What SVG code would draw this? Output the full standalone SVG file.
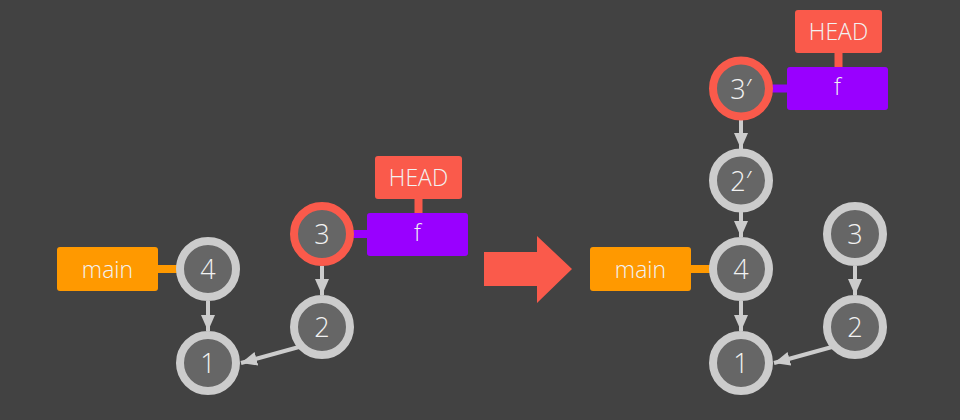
<svg xmlns="http://www.w3.org/2000/svg" width="960" height="420" viewBox="0 0 960 420">
<defs>
<style>
text{font-family:"Open Sans","Noto Sans","Liberation Sans",sans-serif;font-weight:300;fill:#f2f2f2;text-anchor:middle}
.lbl{font-size:23px}
.num{font-size:27px}
.commit{fill:#666;stroke:#ccc;stroke-width:8}
.head-commit{fill:#666;stroke:#fa5a4b;stroke-width:8}
.edge{stroke:#ccc;stroke-width:4;fill:none;marker-end:url(#ah)}
.main-box{fill:#ff9900}
.f-box{fill:#9900ff}
.head-box{fill:#fa5a4b}
.main-link{stroke:#ff9900;stroke-width:8}
.f-link{stroke:#9900ff;stroke-width:8}
.head-link{stroke:#fa5a4b;stroke-width:8}
</style>
<marker id="ah" viewBox="0 0 16 14" refX="16" refY="7" markerWidth="16" markerHeight="14" markerUnits="userSpaceOnUse" orient="auto">
<path d="M0,0 L16,7 L0,14 Z" fill="#ccc"/>
</marker>
</defs>
<rect width="960" height="420" fill="#424242"/>

<g id="connectors">
<line class="edge" x1="208" y1="301" x2="208" y2="331"/>
<line class="edge" x1="322" y1="266" x2="322" y2="295"/>
<line class="edge" x1="299" y1="347" x2="241" y2="363"/>
<line class="main-link" x1="158" y1="269" x2="180" y2="269"/>
<line class="f-link" x1="352" y1="234" x2="367" y2="234"/>
<line class="head-link" x1="418.5" y1="199" x2="418.5" y2="213"/>

<line class="edge" x1="741" y1="120" x2="741" y2="149"/>
<line class="edge" x1="741" y1="212" x2="741" y2="237"/>
<line class="edge" x1="741" y1="301" x2="741" y2="331"/>
<line class="edge" x1="855" y1="266" x2="855" y2="295"/>
<line class="edge" x1="832" y1="347" x2="774" y2="363"/>
<line class="main-link" x1="691" y1="269" x2="713" y2="269"/>
<line class="f-link" x1="771" y1="88.5" x2="787" y2="88.5"/>
<line class="head-link" x1="838.5" y1="53" x2="838.5" y2="67"/>
</g>

<g id="left-main"><rect class="main-box" x="57" y="247" width="101" height="44" rx="3"/><text class="lbl" x="107.5" y="277.5">main</text></g>
<g id="left-f"><rect class="f-box" x="367" y="213" width="101" height="43" rx="3"/><text class="lbl" x="417.5" y="241">f</text></g>
<g id="left-head"><rect class="head-box" x="375" y="156" width="87" height="43" rx="3"/><text class="lbl" x="418.5" y="185.5">HEAD</text></g>
<g id="left-c4"><circle class="commit" cx="208" cy="269" r="28"/><text class="num" x="208" y="279">4</text></g>
<g id="left-c1"><circle class="commit" cx="208" cy="363" r="28"/><text class="num" x="208" y="373">1</text></g>
<g id="left-c3"><circle class="head-commit" cx="322" cy="234" r="28"/><text class="num" x="322" y="244">3</text></g>
<g id="left-c2"><circle class="commit" cx="322" cy="327" r="28"/><text class="num" x="322" y="337">2</text></g>

<g id="big-arrow"><polygon points="484,252 537,252 537,236 572,269 537,303 537,286 484,286" fill="#fa5a4b"/></g>

<g id="right-main"><rect class="main-box" x="590" y="247" width="101" height="44" rx="3"/><text class="lbl" x="640.5" y="277.5">main</text></g>
<g id="right-f"><rect class="f-box" x="787" y="67" width="101" height="43" rx="3"/><text class="lbl" x="837.5" y="95">f</text></g>
<g id="right-head"><rect class="head-box" x="795" y="10" width="87" height="43" rx="3"/><text class="lbl" x="838.5" y="39.5">HEAD</text></g>
<g id="right-c3p"><circle class="head-commit" cx="741" cy="88.5" r="28"/><text class="num" x="741" y="98.5">3′</text></g>
<g id="right-c2p"><circle class="commit" cx="741" cy="180.5" r="28"/><text class="num" x="741" y="190.5">2′</text></g>
<g id="right-c4"><circle class="commit" cx="741" cy="269" r="28"/><text class="num" x="741" y="279">4</text></g>
<g id="right-c1"><circle class="commit" cx="741" cy="363" r="28"/><text class="num" x="741" y="373">1</text></g>
<g id="right-c3"><circle class="commit" cx="855" cy="234" r="28"/><text class="num" x="855" y="244">3</text></g>
<g id="right-c2"><circle class="commit" cx="855" cy="327" r="28"/><text class="num" x="855" y="337">2</text></g>
</svg>
